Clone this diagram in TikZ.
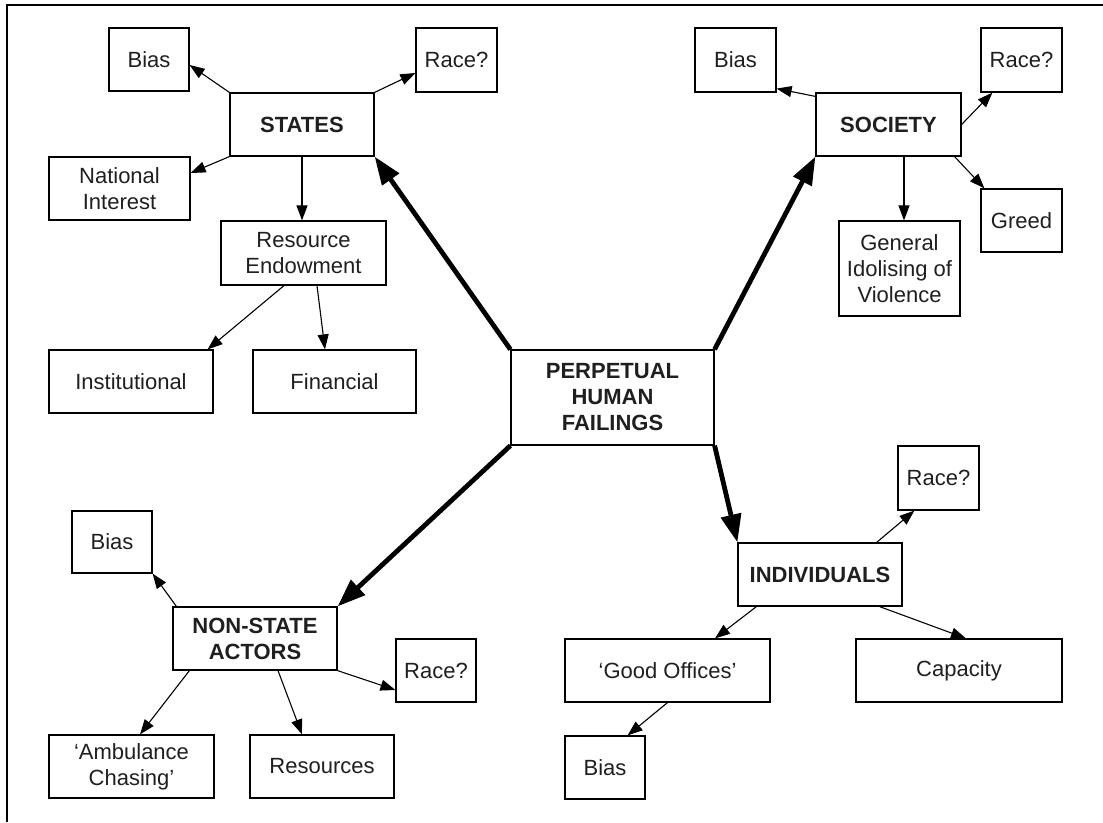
\documentclass[tikz,border=0pt]{standalone}
\usepackage{fontspec}
\setmainfont{Liberation Sans}
\usetikzlibrary{arrows.meta}
\begin{document}
\begin{tikzpicture}[x=1pt,y=-1pt,
  box/.style 2 args={draw, line width=1.2pt, inner sep=0pt, align=center,
    minimum width=#1pt, minimum height=#2pt, text=black!88,
    font=\fontsize{22}{26}\selectfont},
  bbox/.style 2 args={box={#1}{#2}, font=\fontsize{22}{26}\selectfont\bfseries},
  thinarrow/.style={line width=1.1pt, -{Triangle[length=15pt,width=11pt]}},
  thickarrow/.style={line width=4.8pt, -{Triangle[length=28pt,width=20pt]}},
  frameline/.style={line width=1.4pt},
]
\useasboundingbox (0,0) rectangle (1103,822);
% frame (top and left edges only)
\coordinate (ftr) at (1103,5);
\coordinate (ftl) at (7,5);
\coordinate (fbl) at (7,822);
\draw[frameline] (ftr) -- (ftl) -- (fbl);

% centre
\node[bbox={203}{95}] (central) at (612.5,397.5) {PERPETUAL\\HUMAN\\FAILINGS};

% STATES branch
\node[bbox={144}{63}] (states) at (302,124.5) {STATES};
\node[box={80}{63}] (biasS) at (149,59.5) {Bias};
\node[box={81}{64}] (raceS) at (456.5,60) {Race?};
\node[box={141}{63}] (natint) at (119.5,188.5) {National\\Interest};
\node[box={165}{64}] (resend) at (303.5,253) {Resource\\Endowment};
\node[box={164}{63}] (inst) at (131,381.5) {Institutional};
\node[box={163}{63}] (fin) at (334.5,381.5) {Financial};

% SOCIETY branch
\node[bbox={145}{63}] (society) at (888.5,124.5) {SOCIETY};
\node[box={81}{64}] (biasSo) at (735.5,60) {Bias};
\node[box={81}{64}] (raceSo) at (1021.5,60) {Race?};
\node[box={81}{63}] (greed) at (1021.5,220.5) {Greed};
\node[box={121}{95}] (general) at (899.5,268.5) {General\\Idolising of\\Violence};

% INDIVIDUALS branch
\node[bbox={164}{63}] (indiv) at (820,574.5) {INDIVIDUALS};
\node[box={81}{64}] (raceI) at (938.5,478) {Race?};
\node[box={205}{63}] (good) at (667.5,670.5) {‘Good Offices’};
\node[box={206}{63}] (capacity) at (959,670.5) {Capacity};
\node[box={80}{63}] (biasI) at (605,767.5) {Bias};

% NON-STATE ACTORS branch
\node[bbox={164}{63}] (nsa) at (255,638.5) {NON-STATE\\ACTORS};
\node[box={80}{62}] (biasN) at (112,542) {Bias};
\node[box={80}{63}] (raceN) at (436,670.5) {Race?};
\node[box={165}{63}] (amb) at (131.5,766.5) {‘Ambulance\\Chasing’};
\node[box={144}{63}] (resources) at (322,766.5) {Resources};

% thick arrows from centre
\draw[thickarrow] (central.north west) -- (states.south east);
\draw[thickarrow] (central.north east) -- (society.south west);
\draw[thickarrow] (central.south west) -- (nsa.north east);
\draw[thickarrow] (central.south east) -- (indiv.north west);

% STATES arrows
\draw[thinarrow] (states.north west) -- ([yshift=-5.5pt]biasS.east);
\draw[thinarrow] (states.north east) -- ([yshift=-13pt]raceS.west);
\draw[thinarrow] (states.south west) -- ([yshift=15.5pt]natint.east);
\draw[thinarrow] (states.south) -- (states.south |- resend.north);
\draw[thinarrow] ([xshift=-19.5pt]resend.south) -- ([xshift=-6pt]inst.north east);
\draw[thinarrow] ([xshift=13.5pt]resend.south) -- ([xshift=-9.5pt]fin.north);

% SOCIETY arrows
\draw[thinarrow] ([yshift=-4pt]society.north west) -- ([yshift=4pt]biasSo.south east);
\draw[thinarrow] (society.east) -- ([xshift=12pt]raceSo.south west);
\draw[thinarrow] ([xshift=-7pt]society.south east) -- ([xshift=4pt]greed.north west);
\draw[thinarrow] ([xshift=15.5pt]society.south) -- ([xshift=15.5pt]society.south |- general.north);

% INDIVIDUALS arrows
\draw[thinarrow] ([xshift=-26pt]indiv.north east) -- ([xshift=17pt]raceI.south west);
\draw[thinarrow] ([xshift=19pt]indiv.south west) -- ([xshift=47.5pt]good.north);
\draw[thinarrow] ([xshift=-23pt]indiv.south east) -- ([xshift=7pt]capacity.north);
\draw[thinarrow] (good.south) -- ([xshift=-18pt]biasI.north east);

% NON-STATE ACTORS arrows
\draw[thinarrow] ([xshift=4pt]nsa.north west) -- (biasN.south east);
\draw[thinarrow] ([xshift=17pt]nsa.south west) -- ([xshift=8.5pt]amb.north);
\draw[thinarrow] ([xshift=23pt]nsa.south) -- ([xshift=-20pt]resources.north);
\draw[thinarrow] (nsa.south east) -- ([yshift=-19.5pt]raceN.west);
\end{tikzpicture}
\end{document}
